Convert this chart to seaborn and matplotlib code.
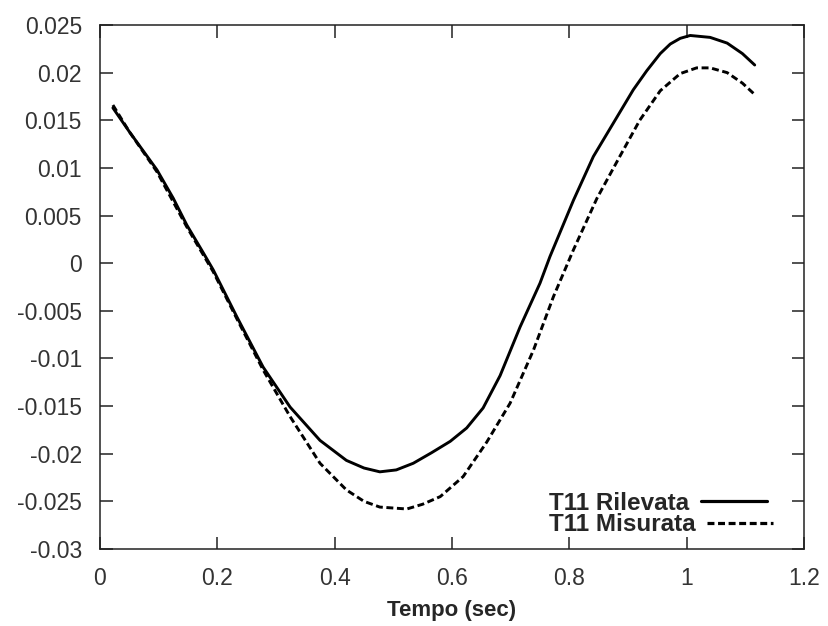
import numpy as np
import pandas as pd
import matplotlib
matplotlib.use("Agg")
import matplotlib.pyplot as plt
import seaborn as sns

# Time samples (s) and values for the recorded series
t_rilevata = [0.022, 0.05, 0.097, 0.125, 0.148, 0.175, 0.193, 0.233, 0.278, 0.324,
              0.375, 0.42, 0.45, 0.477, 0.505, 0.534, 0.565, 0.597, 0.625, 0.653,
              0.682, 0.716, 0.75, 0.767, 0.807, 0.841, 0.875, 0.909, 0.932, 0.955,
              0.972, 0.989, 1.006, 1.04, 1.069, 1.095, 1.116]
v_rilevata = [0.0163, 0.0138, 0.0098, 0.0068, 0.0040, 0.0012, -0.0007, -0.0056,
              -0.0109, -0.0151, -0.0186, -0.0207, -0.0215, -0.0219, -0.0217,
              -0.0210, -0.0199, -0.0187, -0.0173, -0.0152, -0.0118, -0.0067,
              -0.0021, 0.0007, 0.0066, 0.0112, 0.0147, 0.0182, 0.0202, 0.0220,
              0.0230, 0.0236, 0.0239, 0.0237, 0.0231, 0.0220, 0.0208]

# Time samples (s) and values for the measured series
t_misurata = [0.022, 0.05, 0.097, 0.148, 0.193, 0.233, 0.278, 0.324, 0.375, 0.42,
              0.45, 0.477, 0.523, 0.55, 0.58, 0.619, 0.659, 0.699, 0.739, 0.773,
              0.807, 0.847, 0.886, 0.92, 0.955, 0.989, 1.017, 1.04, 1.069, 1.095,
              1.116]
v_misurata = [0.0166, 0.0138, 0.0096, 0.0038, -0.0009, -0.0058, -0.0112, -0.0161,
              -0.0210, -0.0238, -0.0250, -0.0256, -0.0258, -0.0253, -0.0245,
              -0.0224, -0.0188, -0.0147, -0.0091, -0.0035, 0.0014, 0.0068, 0.0112,
              0.0150, 0.0181, 0.0199, 0.0205, 0.0205, 0.0200, 0.0189, 0.0177]

x_ticks = [0, 0.2, 0.4, 0.6, 0.8, 1.0, 1.2]
x_tick_labels = ["0", "0.2", "0.4", "0.6", "0.8", "1", "1.2"]
y_ticks = [-0.03, -0.025, -0.02, -0.015, -0.01, -0.005, 0, 0.005, 0.01, 0.015, 0.02, 0.025]
y_tick_labels = ["-0.03", "-0.025", "-0.02", "-0.015", "-0.01", "-0.005", "0",
                 "0.005", "0.01", "0.015", "0.02", "0.025"]

df_ril = pd.DataFrame({"t": t_rilevata, "v": v_rilevata})
df_mis = pd.DataFrame({"t": t_misurata, "v": v_misurata})

sns.set_theme(style="ticks")
plt.rcParams["font.family"] = ["Liberation Sans", "DejaVu Sans"]
plt.rcParams["lines.scale_dashes"] = False

fig = plt.figure(figsize=(8.29, 6.26), dpi=100)
ax = fig.add_axes([100 / 829, 77 / 626, 704 / 829, 524 / 626])

sns.lineplot(data=df_ril, x="t", y="v", ax=ax, color="black", linewidth=2.1,
             sort=False, label="T11 Rilevata")
sns.lineplot(data=df_mis, x="t", y="v", ax=ax, color="black", linewidth=2.1,
             sort=False, label="T11 Misurata")
ax.lines[1].set_dashes((5, 2.6))
for ln in ax.lines:
    ln.set_solid_joinstyle("round")
    ln.set_dash_joinstyle("round")

ax.set_xlim(0, 1.2)
ax.set_ylim(-0.03, 0.025)
ax.set_xticks(x_ticks)
ax.set_xticklabels(x_tick_labels)
ax.set_yticks(y_ticks)
ax.set_yticklabels(y_tick_labels)

ax.tick_params(axis="both", which="major", direction="in", length=9, width=1.1,
               color="#222222", labelsize=16.5, labelcolor="#333333", pad=13,
               top=True, right=True)
for s in ax.spines.values():
    s.set_visible(True)
    s.set_linewidth(1.1)
    s.set_color("#222222")

ax.set_xlabel("Tempo (sec)", fontsize=16, fontweight="bold", labelpad=7)
ax.set_ylabel("")

leg = ax.legend(loc="lower right", bbox_to_anchor=(0.956, 0.024), frameon=False,
                markerfirst=False, fontsize=17.5, handlelength=2.7,
                handletextpad=0.5, labelspacing=-0.05, borderpad=0, borderaxespad=0)
# keep the labels flush left, with the line samples to their right
for col in leg._legend_handle_box.get_children():
    col.align = "left"
for txt in leg.get_texts():
    txt.set_fontweight("bold")
for h in leg.get_lines():
    h.set_linewidth(2.3)

fig.savefig("out.png", dpi=100, facecolor="white")
